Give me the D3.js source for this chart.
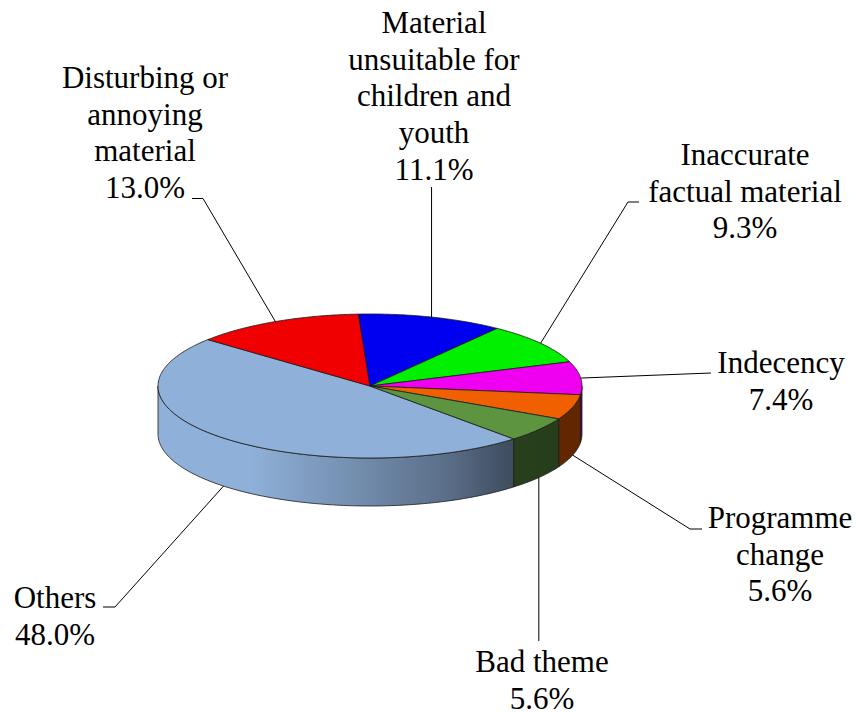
<!DOCTYPE html>
<html>
<head>
<meta charset="utf-8">
<script src="https://cdn.jsdelivr.net/npm/d3@7"></script>
<style>
  html, body { margin: 0; padding: 0; background: #ffffff; }
  svg { display: block; }
</style>
</head>
<body>
<script>
// ---------- data ----------
const categories = [
  "Others",
  "Disturbing or annoying material",
  "Material unsuitable for children and youth",
  "Inaccurate factual material",
  "Indecency",
  "Programme change",
  "Bad theme"
];
const values = [48.0, 13.0, 11.1, 9.3, 7.4, 5.6, 5.6];
const labelLines = [
  ["Others"],
  ["Disturbing or", "annoying", "material"],
  ["Material", "unsuitable for", "children and", "youth"],
  ["Inaccurate", "factual material"],
  ["Indecency"],
  ["Programme", "change"],
  ["Bad theme"]
];
const colors = ["#8FB0D8", "#F00000", "#0000F0", "#00F000", "#F000F0", "#F06000", "#5C9440"];

// ---------- layout ----------
const W = 862, H = 715;
const cx = 370, cy = 386, rx = 212, ry = 72, depth = 48;
const startDeg = 137.3;
const fontSize = 31, lineH = 36.7;
const fontFamily = "'Liberation Serif', 'Times New Roman', Times, 'Nimbus Roman', 'Noto Serif', 'DejaVu Serif', FreeSerif, Tinos, serif";
const labelLayout = [
  { x: 55,  y: 608, leader: [[103, 607], [115, 607]], bottom: true },
  { x: 145, y: 88,  leader: [[192, 198.5], [203, 198.5]], bottom: false },
  { x: 434, y: 33,  leader: "vertical", vy: 187, bottom: false },
  { x: 745, y: 165, leader: [[639, 202], [628, 202]], bottom: false },
  { x: 781, y: 373, leader: [[711, 373]], bottom: false },
  { x: 780, y: 528, leader: [[702, 529], [690, 529]], bottom: true },
  { x: 542, y: 672, leader: "vertical", vy: 641, bottom: true }
];

const svg = d3.select("body").append("svg").attr("width", W).attr("height", H);
const defs = svg.append("defs");

const pie = d3.pie().sort(null).value(d => d)
  .startAngle(startDeg * Math.PI / 180)
  .endAngle(startDeg * Math.PI / 180 + 2 * Math.PI);
const arcs = pie(values);

const proj = (a, dy) => [cx + rx * Math.sin(a), cy - ry * Math.cos(a) + (dy || 0)];
function pts(a0, a1, dy) {
  const n = Math.max(2, Math.ceil(Math.abs(a1 - a0) / (Math.PI / 180)) + 1);
  return d3.range(n).map(i => proj(a0 + (a1 - a0) * i / (n - 1), dy));
}
const line = d3.line();

const shadeStops = [[0, 1.0], [0.22, 1.0], [0.45, 0.82], [0.69, 0.62], [0.83, 0.44], [1, 0.40]];
colors.forEach((c, i) => {
  const g = defs.append("linearGradient").attr("id", "side" + i)
    .attr("gradientUnits", "userSpaceOnUse")
    .attr("x1", cx - rx).attr("x2", cx + rx).attr("y1", 0).attr("y2", 0);
  const base = d3.rgb(c);
  shadeStops.forEach(([o, f]) => {
    g.append("stop").attr("offset", o)
      .attr("stop-color", d3.rgb(base.r * f, base.g * f, base.b * f).formatHex());
  });
});

const strokeC = "#1a1a1a", strokeW = 0.8;

const sideG = svg.append("g");
arcs.forEach((d, i) => {
  [0, 2 * Math.PI].forEach(k => {
    const a0 = Math.max(d.startAngle, Math.PI / 2 + k);
    const a1 = Math.min(d.endAngle, 3 * Math.PI / 2 + k);
    if (a1 > a0) {
      const top = pts(a0, a1, 0);
      const bot = pts(a1, a0, depth);
      sideG.append("path")
        .attr("d", line(top.concat(bot)) + "Z")
        .attr("fill", "url(#side" + i + ")")
        .attr("stroke", strokeC).attr("stroke-width", strokeW)
        .attr("stroke-linejoin", "round");
    }
  });
});

const topG = svg.append("g");
arcs.forEach((d, i) => {
  const p = [[cx, cy]].concat(pts(d.startAngle, d.endAngle, 0));
  topG.append("path")
    .attr("d", line(p) + "Z")
    .attr("fill", colors[i])
    .attr("stroke", strokeC).attr("stroke-width", strokeW)
    .attr("stroke-linejoin", "round");
});

const fmt = d3.format(".1f");
const labG = svg.append("g")
  .attr("font-family", fontFamily)
  .attr("font-size", fontSize);
arcs.forEach((d, i) => {
  const L = labelLayout[i];
  const mid = (d.startAngle + d.endAngle) / 2;
  const anchor = proj(mid, L.bottom ? depth : 0);
  let poly;
  if (L.leader === "vertical") poly = [[anchor[0], L.vy], anchor];
  else poly = L.leader.concat([anchor]);
  labG.append("path").attr("d", line(poly))
    .attr("fill", "none").attr("stroke", "#000").attr("stroke-width", 1);

  const lines = labelLines[i].concat([fmt(values[i]) + "%"]);
  const t = labG.append("text")
    .attr("text-anchor", "middle")
    .attr("fill", "#000");
  lines.forEach((s, j) => {
    t.append("tspan").attr("x", L.x).attr("y", L.y + j * lineH).text(s);
  });
});
</script>
</body>
</html>
